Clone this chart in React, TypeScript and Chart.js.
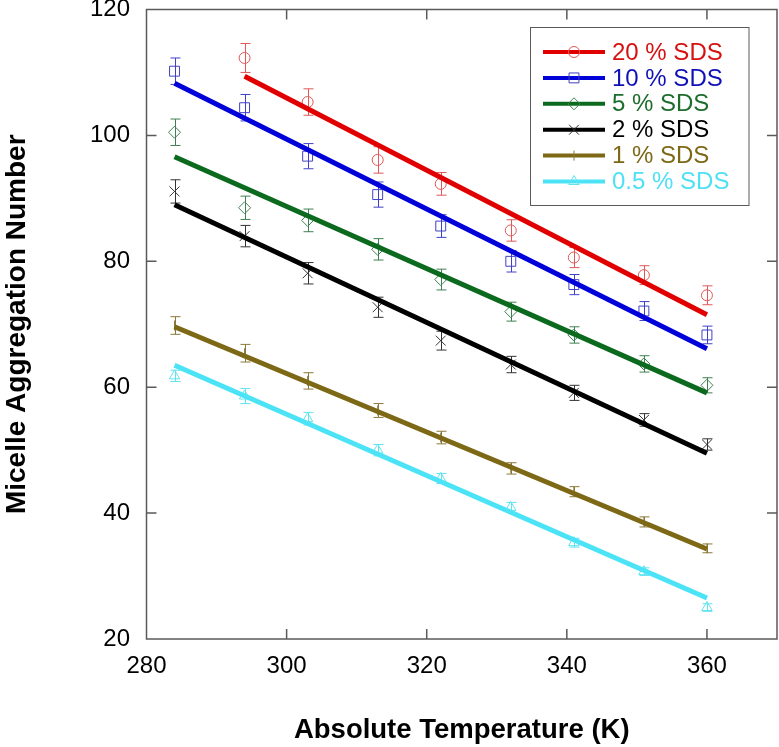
import React, { useEffect, useRef } from 'react';
import { Chart, registerables } from 'chart.js';
import { drawPoint } from 'chart.js/helpers';

Chart.register(...registerables);

// ---------- data ----------
const temperatures = [284, 294, 303, 313, 322, 332, 341, 351, 360];
const seriesLabels = ['20 % SDS', '10 % SDS', '5 % SDS', '2 % SDS', '1 % SDS', '0.5 % SDS'];

const sds20 = [null, 112.3, 105.3, 96.1, 92.3, 84.9, 80.6, 77.8, 74.6];
const sds10 = [110.2, 104.4, 96.7, 90.6, 85.6, 80.0, 76.3, 72.1, 68.3];
const sds5 = [100.5, 88.5, 86.5, 81.9, 77.1, 72.0, 68.3, 63.7, 60.3];
const sds2 = [91.1, 84.0, 78.1, 72.7, 67.4, 63.6, 59.1, 54.8, 50.9];
const sds1 = [69.8, 65.4, 61.0, 56.3, 52.0, 47.1, 43.4, 38.6, 34.4];
const sds05 = [61.8, 58.6, 55.0, 50.0, 45.5, 40.9, 35.3, 30.7, 25.0];

const err20 = [null, 2.3, 2.1, 2.1, 1.8, 1.7, 1.6, 1.5, 1.5];
const err10 = [2.1, 2.1, 2.0, 2.0, 1.8, 1.7, 1.6, 1.5, 1.4];
const err5 = [2.1, 1.85, 1.8, 1.7, 1.65, 1.5, 1.3, 1.3, 1.2];
const err2 = [1.85, 1.7, 1.7, 1.6, 1.5, 1.3, 1.2, 1.0, 0.9];
const err1 = [1.4, 1.4, 1.3, 1.1, 1.0, 0.9, 0.8, 0.8, 0.7];
const err05 = [0.9, 1.2, 1.0, 0.9, 0.8, 0.8, 0.7, 0.6, 0.6];

// fitted straight lines: [start, end] temperatures and values
const fitT20 = [294, 360];
const fitT = [284, 360];
const fit20 = [109.4, 71.5];
const fit10 = [108.3, 66.1];
const fit5 = [96.6, 59.1];
const fit2 = [89.0, 49.5];
const fit1 = [69.6, 34.3];
const fit05 = [63.5, 26.5];

const xTicksMin = 280;
const xTicksMax = 370;
const yTicksMin = 20;
const yTicksMax = 120;
const tickStep = 20;

// ---------- styles ----------
const series = [
  { label: seriesLabels[0], values: sds20, errors: err20, fitX: fitT20, fitY: fit20, line: '#e00000', marker: '#e05858', text: '#d81010', style: 'circle', radius: 5.5, rotation: 0 },
  { label: seriesLabels[1], values: sds10, errors: err10, fitX: fitT, fitY: fit10, line: '#0000d8', marker: '#4040c8', text: '#1010b8', style: 'rect', radius: 7, rotation: 0 },
  { label: seriesLabels[2], values: sds5, errors: err5, fitX: fitT, fitY: fit5, line: '#0b6a1e', marker: '#3f8052', text: '#1c6e2c', style: 'rectRot', radius: 6, rotation: 0 },
  { label: seriesLabels[3], values: sds2, errors: err2, fitX: fitT, fitY: fit2, line: '#000000', marker: '#333333', text: '#000000', style: 'crossRot', radius: 7, rotation: 0 },
  { label: seriesLabels[4], values: sds1, errors: err1, fitX: fitT, fitY: fit1, line: '#7d6816', marker: '#8a7838', text: '#7d6816', style: 'line', radius: 5, rotation: 90 },
  { label: seriesLabels[5], values: sds05, errors: err05, fitX: fitT, fitY: fit05, line: '#4de3f7', marker: '#5fe3f0', text: '#4fe0f5', style: 'triangle', radius: 6, rotation: 0 },
];

const FONT = 'Arial, "Liberation Sans", Helvetica, sans-serif';

const frameTicksPlugin = {
  id: 'frameTicks',
  afterDatasetsDraw(chart: any) {
    const { ctx, chartArea } = chart;
    const { left, right, top, bottom } = chartArea;
    const xs = chart.scales.x;
    const ys = chart.scales.y;
    ctx.save();
    ctx.strokeStyle = '#5a5a5a';
    ctx.lineWidth = 1.5;
    ctx.strokeRect(left, top, right - left, bottom - top);
    const len = 10;
    ctx.beginPath();
    xs.ticks.forEach((t: any) => {
      const px = xs.getPixelForValue(t.value);
      if (px <= left + 1 || px >= right - 1) return;
      ctx.moveTo(px, bottom);
      ctx.lineTo(px, bottom - len);
      ctx.moveTo(px, top);
      ctx.lineTo(px, top + len);
    });
    ys.ticks.forEach((t: any) => {
      const py = ys.getPixelForValue(t.value);
      if (py <= top + 1 || py >= bottom - 1) return;
      ctx.moveTo(left, py);
      ctx.lineTo(left + len, py);
      ctx.moveTo(right, py);
      ctx.lineTo(right - len, py);
    });
    ctx.stroke();
    ctx.restore();
  },
};

const errorBarsPlugin = {
  id: 'errorBars',
  beforeDatasetsDraw(chart: any) {
    const { ctx } = chart;
    const xs = chart.scales.x;
    const ys = chart.scales.y;
    ctx.save();
    ctx.lineWidth = 1;
    series.forEach((s) => {
      ctx.strokeStyle = s.marker;
      ctx.beginPath();
      temperatures.forEach((t, j) => {
        const v = s.values[j];
        const e = s.errors[j];
        if (v == null || e == null) return;
        const px = Math.round(xs.getPixelForValue(t)) + 0.5;
        const yt = ys.getPixelForValue(v + e);
        const yb = ys.getPixelForValue(v - e);
        ctx.moveTo(px, yt);
        ctx.lineTo(px, yb);
        ctx.moveTo(px - 5, yt);
        ctx.lineTo(px + 5, yt);
        ctx.moveTo(px - 5, yb);
        ctx.lineTo(px + 5, yb);
      });
      ctx.stroke();
    });
    ctx.restore();
  },
};

const legendPlugin = {
  id: 'boxLegend',
  afterDraw(chart: any) {
    const { ctx } = chart;
    const bx = 530.5, by = 27.5, bw = 218.5, bh = 178;
    ctx.save();
    ctx.fillStyle = '#ffffff';
    ctx.fillRect(bx, by, bw, bh);
    ctx.strokeStyle = '#5a5a5a';
    ctx.lineWidth = 1;
    ctx.strokeRect(bx, by, bw, bh);
    series.forEach((s, i) => {
      const y = 52 + i * 25.9;
      ctx.strokeStyle = s.line;
      ctx.lineWidth = 4;
      ctx.beginPath();
      ctx.moveTo(543, y);
      ctx.lineTo(605, y);
      ctx.stroke();
      ctx.strokeStyle = s.marker;
      ctx.fillStyle = 'rgba(0,0,0,0)';
      ctx.lineWidth = 1;
      drawPoint(ctx, { pointStyle: s.style, radius: s.radius, rotation: s.rotation, borderWidth: 1 } as any, 574, y);
      ctx.fillStyle = s.text;
      ctx.font = `24px ${FONT}`;
      ctx.textAlign = 'left';
      ctx.textBaseline = 'middle';
      ctx.fillText(s.label, 612, y + 1);
    });
    ctx.restore();
  },
};

export default function App() {
  const canvasRef = useRef<HTMLCanvasElement | null>(null);

  useEffect(() => {
    const canvas = canvasRef.current;
    if (!canvas) return;

    const datasets: any[] = [];
    series.forEach((s) => {
      datasets.push({
        label: s.label + ' fit',
        data: [
          { x: s.fitX[0], y: s.fitY[0] },
          { x: s.fitX[1], y: s.fitY[1] },
        ],
        showLine: true,
        borderColor: s.line,
        borderWidth: 5,
        pointRadius: 0,
        fill: false,
        order: 1,
      });
    });
    series.forEach((s) => {
      const pts: any[] = [];
      temperatures.forEach((t, j) => {
        if (s.values[j] != null) pts.push({ x: t, y: s.values[j] });
      });
      datasets.push({
        label: s.label,
        data: pts,
        showLine: false,
        pointStyle: s.style,
        pointRadius: s.radius,
        pointRotation: s.rotation,
        pointBorderColor: s.marker,
        pointBackgroundColor: 'rgba(0,0,0,0)',
        pointBorderWidth: 1,
        order: 2,
      });
    });

    const chart = new Chart(canvas, {
      type: 'scatter',
      data: { datasets },
      options: {
        responsive: false,
        animation: false,
        devicePixelRatio: 1,
        events: [],
        layout: { autoPadding: false, padding: { left: 0, top: 9.5, right: 2, bottom: 0 } },
        plugins: {
          legend: { display: false },
          tooltip: { enabled: false },
          title: { display: false },
        },
        scales: {
          x: {
            type: 'linear',
            position: 'bottom',
            min: xTicksMin,
            max: xTicksMax,
            grid: { display: false, drawTicks: false },
            border: { display: false },
            ticks: {
              stepSize: tickStep,
              includeBounds: false,
              padding: 13,
              color: '#000',
              font: { family: FONT, size: 24 },
              maxRotation: 0,
              autoSkip: false,
            },
            title: {
              display: true,
              text: 'Absolute Temperature (K)',
              color: '#000',
              font: { family: FONT, size: 27.5, weight: 'bold' },
              padding: { top: 0, bottom: 0 },
            },
            afterFit(scale: any) {
              scale.height = 108;
              scale.paddingLeft = 0;
              scale.paddingRight = 0;
            },
          },
          y: {
            type: 'linear',
            position: 'left',
            min: yTicksMin,
            max: yTicksMax,
            grid: { display: false, drawTicks: false },
            border: { display: false },
            ticks: {
              stepSize: tickStep,
              padding: 16.5,
              color: '#000',
              font: { family: FONT, size: 24 },
            },
            title: {
              display: true,
              text: 'Micelle Aggregation Number',
              color: '#000',
              font: { family: FONT, size: 28, weight: 'bold' },
              padding: { top: 0, bottom: 0 },
            },
            afterFit(scale: any) {
              scale.width = 146.5;
              scale.paddingTop = 0;
              scale.paddingBottom = 0;
            },
          },
        },
      } as any,
      plugins: [errorBarsPlugin, frameTicksPlugin, legendPlugin],
    });

    return () => {
      chart.destroy();
    };
  }, []);

  return (
    <div style={{ position: 'absolute', left: 0, top: 0, width: 779, height: 747, background: '#fff' }}>
      <canvas ref={canvasRef} width={779} height={747} style={{ display: 'block' }} />
    </div>
  );
}
